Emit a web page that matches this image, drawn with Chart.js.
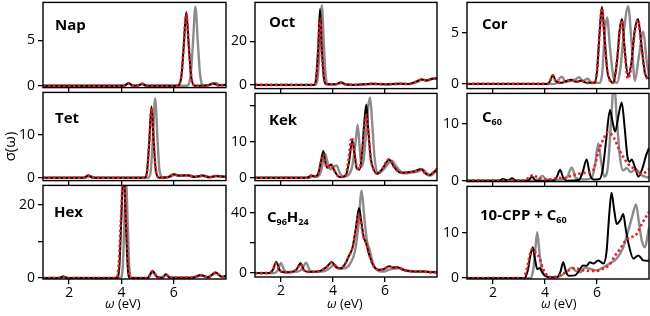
<!DOCTYPE html>
<html><head><meta charset="utf-8">
<script src="https://cdn.jsdelivr.net/npm/chart.js@4.4.1/dist/chart.umd.min.js"></script>
<style>
html,body{margin:0;padding:0;background:#fff;}
#wrap{position:relative;width:650px;height:316px;overflow:hidden;font-family:'Open Sans',sans-serif;}
canvas{position:absolute;}
.lbl{position:absolute;white-space:nowrap;color:#000;line-height:1;}
.lbl sub{font-size:0.6em;vertical-align:-0.3em;line-height:1;}
</style></head><body><div id="wrap"></div>
<script>
// ---------- data ----------
const xTicks = [2, 4, 6];

const napBlack = [[1,0],[4.1,0],[4.27,0.3],[4.45,0],[4.65,0.05],[4.8,0.2],[4.95,0],[6.15,0],[6.3,1.2],[6.38,4.2],[6.48,8.1],[6.58,4.2],[6.66,1.2],[6.8,0],[7.3,0.05],[7.5,0.25],[7.7,0.05],[8,0.1]];
const napGray  = [[1,0],[4.1,0],[4.27,0.25],[4.45,0],[4.65,0.05],[4.8,0.25],[4.95,0],[6.5,0],[6.65,1.2],[6.73,4.4],[6.83,8.7],[6.93,4.4],[7.01,1.2],[7.15,0],[7.4,0.1],[7.6,0.3],[7.8,0.05],[8,0.1]];
const napRed   = [[1,0],[4.1,0],[4.27,0.3],[4.45,0],[4.65,0.05],[4.8,0.2],[4.95,0],[6.15,0],[6.3,1.3],[6.38,4.3],[6.48,7.9],[6.58,4.3],[6.66,1.3],[6.8,0],[7.3,0.05],[7.5,0.25],[7.7,0.05],[8,0.1]];

const tetBlack = [[1,0],[2.55,0],[2.73,0.5],[2.9,0],[4.88,0],[4.98,1.5],[5.06,8],[5.15,16.7],[5.24,8],[5.32,1.5],[5.45,0],[5.8,0.2],[6.0,0.8],[6.2,0.5],[6.5,0.6],[6.8,0.2],[7.1,0.5],[7.35,0.1],[7.6,0.4],[8,0.2]];
const tetGray  = [[1,0],[2.6,0],[2.8,0.4],[3.0,0],[5.02,0],[5.12,1.5],[5.2,9],[5.29,18.6],[5.38,9],[5.46,1.5],[5.6,0],[5.85,0.2],[6.05,0.7],[6.25,0.4],[6.55,0.6],[6.85,0.2],[7.15,0.5],[7.4,0.1],[7.65,0.4],[8,0.2]];
const tetRed   = [[1,0],[2.55,0],[2.73,0.5],[2.9,0],[4.88,0],[4.98,1.5],[5.06,7.8],[5.15,16.2],[5.24,7.8],[5.32,1.5],[5.45,0],[5.8,0.2],[6.0,0.8],[6.2,0.5],[6.5,0.6],[6.8,0.2],[7.1,0.5],[7.35,0.1],[7.6,0.4],[8,0.2]];

const hexBlack = [[1,0],[1.6,0],[1.77,0.4],[1.95,0],[3.82,0],[3.92,3],[3.99,15],[4.08,30],[4.17,15],[4.24,3],[4.33,0],[5.0,0],[5.19,1.9],[5.38,0.2],[5.55,0.1],[5.7,1.0],[5.85,0.1],[6.7,0.1],[7.04,0.8],[7.3,0.2],[7.6,1.5],[7.85,0.3],[8,0.6]];
const hexGray  = [[1,0],[1.6,0],[1.77,0.3],[1.95,0],[3.96,0],[4.05,3],[4.11,15],[4.17,28],[4.24,15],[4.3,3],[4.39,0],[5.0,0],[5.2,1.6],[5.4,0.2],[5.55,0.1],[5.72,0.9],[5.87,0.1],[6.7,0.1],[7.06,0.7],[7.3,0.2],[7.62,1.3],[7.85,0.3],[8,0.5]];
const hexRed   = [[1,0],[1.6,0],[1.77,0.4],[1.95,0],[3.8,0],[3.9,4],[3.98,16],[4.08,29],[4.18,16],[4.26,4],[4.36,0],[5.0,0],[5.19,1.9],[5.38,0.2],[5.55,0.1],[5.7,1.0],[5.85,0.1],[6.7,0.1],[7.04,0.8],[7.3,0.2],[7.6,1.5],[7.85,0.3],[8,0.6]];

const octBlack = [[1,0],[3.26,0],[3.35,3],[3.43,17],[3.5,34.8],[3.57,17],[3.65,3],[3.74,0.3],[4.1,0.3],[4.3,1.2],[4.45,0.3],[4.8,0],[5.5,0.5],[6.0,0.3],[6.6,0.5],[6.9,0.4],[7.2,1.5],[7.4,2.5],[7.6,2.0],[7.8,2.8],[8,3]];
const octGray  = [[1,0],[3.32,0],[3.41,3],[3.49,18],[3.57,36.5],[3.65,18],[3.73,3],[3.82,0.3],[4.15,0.3],[4.35,1.0],[4.5,0.3],[4.85,0],[5.55,0.4],[6.05,0.3],[6.65,0.5],[6.95,0.4],[7.25,1.4],[7.45,2.4],[7.65,2.1],[7.85,2.9],[8,3.1]];
const octRed   = [[1,0],[3.26,0],[3.35,3],[3.43,15],[3.5,30],[3.57,15],[3.65,3],[3.74,0.3],[4.1,0.3],[4.3,1.2],[4.45,0.3],[4.8,0],[5.5,0.5],[6.0,0.3],[6.6,0.5],[6.9,0.4],[7.2,1.5],[7.4,2.5],[7.6,2.0],[7.8,2.8],[8,3]];

const kekBlack = [[1,0],[3.0,0],[3.17,0.6],[3.3,0.3],[3.45,1.5],[3.55,5],[3.63,7.4],[3.7,4.5],[3.77,2.8],[3.85,3.2],[3.93,3.7],[4.05,2.0],[4.2,0.4],[4.35,0.2],[4.5,0.8],[4.62,4.5],[4.74,10.3],[4.83,6.5],[4.92,2.5],[5.02,2.2],[5.12,7],[5.2,15],[5.28,20.3],[5.36,13],[5.45,5.5],[5.55,2.5],[5.7,1.1],[5.9,2.5],[6.16,5.0],[6.35,3],[6.6,1.4],[6.9,1.5],[7.15,1.8],[7.39,2.4],[7.55,1.2],[7.7,0.7],[7.85,1.4],[8,2.4]];
const kekGray  = [[1,0],[3.1,0],[3.25,0.5],[3.4,0.3],[3.55,2],[3.63,5],[3.7,6.6],[3.78,4.5],[3.9,2.3],[4.02,3],[4.14,3.4],[4.25,1.5],[4.4,0.3],[4.6,0.8],[4.75,3.5],[4.87,10],[4.95,14.7],[5.03,8],[5.1,3],[5.18,5],[5.28,13],[5.36,20],[5.43,22.2],[5.5,16],[5.6,5.5],[5.75,1.2],[5.95,2.3],[6.26,4.7],[6.45,3],[6.7,1.2],[7.0,1.4],[7.25,1.7],[7.45,2.3],[7.6,1.3],[7.75,0.6],[7.9,1.4],[8,2]];
const kekRed   = [[1,0],[3.0,0],[3.17,0.6],[3.3,0.3],[3.45,1.5],[3.55,4.8],[3.62,6.5],[3.7,4.3],[3.77,2.8],[3.85,3.1],[3.92,3.5],[4.05,2.0],[4.2,0.4],[4.35,0.2],[4.5,0.9],[4.6,5],[4.72,11.2],[4.82,7],[4.92,2.8],[5.02,2.5],[5.12,7],[5.2,13.5],[5.28,17.4],[5.36,12.5],[5.45,5.5],[5.55,2.5],[5.7,1.1],[5.9,2.5],[6.16,5.2],[6.35,3],[6.6,1.4],[6.9,1.5],[7.15,1.8],[7.39,2.4],[7.55,1.2],[7.7,0.7],[7.85,1.4],[8,2.4]];

const c96Black = [[1,0],[1.55,0],[1.68,2],[1.82,7.4],[1.95,2],[2.1,0.5],[2.4,0.8],[2.6,2.5],[2.75,6.5],[2.88,2],[3.05,0.8],[3.5,1.5],[3.75,4],[3.95,7.4],[4.15,3.5],[4.3,3.2],[4.48,6.5],[4.6,11],[4.75,17],[4.88,30],[5.0,43.5],[5.1,33],[5.18,24],[5.26,20.5],[5.4,12],[5.55,5],[5.77,2.2],[5.95,2.6],[6.16,4.6],[6.32,3.8],[6.47,3.9],[6.7,2.2],[7.0,1.3],[7.5,1],[7.8,0.5],[8,0.5]];
const c96Gray  = [[1,0],[1.75,0],[1.88,2],[2.0,6.8],[2.12,2],[2.3,0.5],[2.6,0.8],[2.8,2.5],[2.97,7.0],[3.1,2],[3.3,0.8],[3.7,1.5],[3.9,3.5],[4.05,5.8],[4.25,3],[4.45,3.2],[4.68,7],[4.85,15],[4.98,32],[5.1,55],[5.2,38],[5.3,22],[5.4,16],[5.55,6],[5.75,1.5],[5.95,1],[6.2,2.5],[6.4,3],[6.6,3.5],[6.8,1.5],[7.2,1],[7.6,1],[8,0.7]];
const c96Red   = [[1,0],[1.55,0],[1.68,2],[1.82,6.5],[1.95,2],[2.1,0.5],[2.4,0.8],[2.6,2.5],[2.75,6],[2.88,2],[3.05,0.8],[3.5,1.5],[3.75,4],[3.95,6.8],[4.15,3.5],[4.3,3.2],[4.48,6.5],[4.6,11],[4.75,17],[4.88,28],[5.0,39.5],[5.1,31],[5.18,24],[5.26,21],[5.4,12],[5.55,5],[5.77,2.2],[5.95,2.6],[6.16,4.4],[6.32,3.8],[6.47,3.9],[6.7,2.2],[7.0,1.3],[7.5,1],[7.8,0.5],[8,0.5]];

const corBlack = [[1,0],[4.1,0],[4.2,0.3],[4.3,0.85],[4.42,0.25],[4.6,0.1],[4.8,0.25],[5.0,0.4],[5.2,0.2],[5.4,0.3],[5.6,0.1],[5.9,0.1],[6.0,1.2],[6.1,5],[6.19,7.5],[6.29,4.5],[6.4,1.2],[6.5,0.4],[6.62,0.1],[6.78,2.5],[6.87,5.2],[6.96,6.35],[7.06,3.5],[7.19,0.8],[7.32,2],[7.45,5.2],[7.58,6.35],[7.7,4],[7.85,1],[8,0.5]];
const corGray  = [[1,0],[4.4,0],[4.55,0.5],[4.65,0.7],[4.8,0.2],[5.0,0.3],[5.15,0.4],[5.3,0.65],[5.45,0.3],[5.65,0.5],[5.8,0.1],[6.1,0.1],[6.2,1],[6.3,5],[6.39,6.5],[6.5,3.5],[6.62,0.8],[6.77,0.1],[6.9,1.5],[7.05,5.5],[7.2,7.6],[7.33,4],[7.46,0.3],[7.6,2.5],[7.78,5.1],[7.9,2.5],[8,0.8]];
const corRed   = [[1,0],[4.1,0],[4.2,0.3],[4.3,0.85],[4.42,0.25],[4.6,0.1],[4.8,0.25],[5.0,0.4],[5.2,0.2],[5.4,0.3],[5.6,0.1],[5.9,0.1],[6.0,1.2],[6.1,5],[6.19,7.4],[6.29,4.5],[6.4,1.2],[6.5,0.3],[6.62,0.1],[6.78,2.5],[6.87,5],[6.96,6.2],[7.06,3.3],[7.19,0.5],[7.32,1.8],[7.45,5],[7.58,6.2],[7.7,4],[7.85,1],[8,0.4]];

const c60Black = [[1,0],[2.25,0],[2.38,0.3],[2.5,0.1],[2.6,0.1],[2.73,0.4],[2.9,0],[3.35,0],[3.5,0.7],[3.65,0],[4.3,0],[4.45,0.6],[4.58,1.9],[4.7,0.5],[4.85,0],[5.3,0.1],[5.45,1.5],[5.6,3.7],[5.72,1.2],[5.85,0.2],[6.1,0.3],[6.22,2],[6.35,7],[6.5,12.4],[6.6,10.3],[6.7,8.6],[6.83,11.5],[6.95,13.7],[7.07,9],[7.17,4.2],[7.25,3.3],[7.33,3.7],[7.45,2.5],[7.59,0.7],[7.75,2.2],[7.9,4.6],[8,5.7]];
const c60Gray  = [[1,0],[3.6,0],[3.75,0.3],[3.9,0.8],[4.05,0.2],[4.5,0.1],[4.85,0.6],[5.03,2.3],[5.18,0.5],[5.5,0.2],[5.8,0.5],[5.93,3],[6.05,6.5],[6.17,3],[6.28,0.7],[6.42,2.5],[6.55,11],[6.65,17.5],[6.76,11],[6.88,4.2],[7.0,1.8],[7.15,2.2],[7.3,1.5],[7.5,2],[7.7,1],[8,0.5]];
const c60Red   = [[1,0],[3.2,0],[3.4,0.6],[3.55,1.0],[3.7,0.6],[3.9,0.2],[4.2,0.2],[4.5,0.5],[4.7,0.4],[5.0,0.8],[5.3,1.2],[5.6,1.4],[5.85,1.8],[6.05,5],[6.2,6.8],[6.43,8.5],[6.65,7.5],[6.88,5.2],[7.2,2.9],[7.45,2.0],[7.65,1.2],[7.8,1.3],[8,2.0]];

const cppBlack = [[1,0],[3.2,0],[3.33,1.5],[3.44,5],[3.53,6.8],[3.62,4],[3.7,2],[3.8,2.2],[3.9,1.2],[4.0,0.6],[4.15,0.2],[4.45,0.2],[4.6,1.5],[4.7,3.5],[4.8,1.5],[4.92,0.5],[5.15,0.6],[5.35,2.0],[5.46,2.8],[5.6,2.7],[5.73,3.5],[5.86,3.2],[6.05,3.9],[6.25,3.2],[6.37,6],[6.47,14],[6.56,18.8],[6.66,15],[6.76,11.9],[6.9,12.8],[7.01,14.1],[7.1,11],[7.2,7.9],[7.4,4.3],[7.59,5.0],[7.78,3.9],[8,3.8]];
const cppGray  = [[1,0],[3.45,0],[3.55,2],[3.63,6.5],[3.7,10.1],[3.78,6],[3.87,2],[4.0,0.5],[4.3,0.1],[4.6,0.5],[4.85,1.5],[5.03,2.3],[5.2,1.5],[5.35,1.3],[5.54,2.3],[5.75,2.0],[5.99,1.7],[6.2,2.2],[6.37,2.8],[6.55,3.4],[6.76,4.3],[7.01,6.8],[7.2,10.4],[7.35,13.5],[7.5,16.2],[7.62,12],[7.72,8.3],[7.85,6.8],[7.95,9.5],[8,11.2]];
const cppRed   = [[1,0],[3.15,0],[3.3,2],[3.42,5.2],[3.52,6.4],[3.65,5.5],[3.8,4.3],[3.92,2.1],[4.1,0.5],[4.3,0.2],[4.5,0.5],[4.7,1.0],[4.95,1.8],[5.15,2.2],[5.4,1.8],[5.7,1.6],[5.99,1.6],[6.2,2.0],[6.45,2.8],[6.7,5],[6.9,6.5],[7.1,8.3],[7.3,9],[7.5,9.5],[7.72,11.9],[8,14.6]];

// y tick values / which ones carry labels
const napYTicks = [0,5],      napYLabels = [0,5];
const tetYTicks = [0,10],     tetYLabels = [0,10];
const hexYTicks = [0,10,20],  hexYLabels = [0,20];
const octYTicks = [0,20],     octYLabels = [0,20];
const kekYTicks = [0,10,20],  kekYLabels = [0,10];
const c96YTicks = [0,20,40],  c96YLabels = [0,40];
const corYTicks = [0,5],      corYLabels = [0,5];
const c60YTicks = [0,10],     c60YLabels = [0,10];
const cppYTicks = [0,10],     cppYLabels = [0,10];

// ---------- layout ----------
const FONT = "'Open Sans', sans-serif";
const panels = [
  {L:43,  T:1,   R:226, B:91,  ymin:-0.2,  ymax:9.17, yt:napYTicks, yl:napYLabels, black:napBlack, gray:napGray, red:napRed, bottom:false},
  {L:43,  T:91,  R:226, B:184, ymin:-0.67, ymax:20,   yt:tetYTicks, yl:tetYLabels, black:tetBlack, gray:tetGray, red:tetRed, bottom:false},
  {L:43,  T:184, R:226, B:279, ymin:-0.27, ymax:25.4, yt:hexYTicks, yl:hexYLabels, black:hexBlack, gray:hexGray, red:hexRed, bottom:true},
  {L:255, T:1,   R:437, B:92,  ymin:-1.7,  ymax:37.8, yt:octYTicks, yl:octYLabels, black:octBlack, gray:octGray, red:octRed, bottom:false},
  {L:255, T:92,  R:437, B:184, ymin:-0.8,  ymax:23.4, yt:kekYTicks, yl:kekYLabels, black:kekBlack, gray:kekGray, red:kekRed, bottom:false},
  {L:255, T:184, R:437, B:277, ymin:-2.6,  ymax:58.5, yt:c96YTicks, yl:c96YLabels, black:c96Black, gray:c96Gray, red:c96Red, bottom:true},
  {L:467, T:1,   R:649, B:92,  ymin:-0.46, ymax:7.96, yt:corYTicks, yl:corYLabels, black:corBlack, gray:corGray, red:corRed, bottom:false},
  {L:467, T:92,  R:649, B:185, ymin:-0.17, ymax:15.3, yt:c60YTicks, yl:c60YLabels, black:c60Black, gray:c60Gray, red:c60Red, bottom:false},
  {L:467, T:185, R:649, B:279, ymin:-0.2,  ymax:20.2, yt:cppYTicks, yl:cppYLabels, black:cppBlack, gray:cppGray, red:cppRed, bottom:true}
];

const wrap = document.getElementById('wrap');
const frame = {id:'frame', afterDraw(chart){
  const a = chart.chartArea, ctx = chart.ctx;
  ctx.save(); ctx.strokeStyle = '#000'; ctx.lineWidth = 1.4;
  ctx.strokeRect(a.left, a.top, a.right - a.left, a.bottom - a.top);
  ctx.restore();
}};

const PADL = 42, PADT = 10, PADR = 6;
panels.forEach(p => {
  const xh = p.bottom ? 30 : 8;
  const w = (p.R - p.L) + PADL + PADR, h = (p.B - p.T) + PADT + xh;
  const c = document.createElement('canvas');
  c.width = w; c.height = h;
  c.style.left = (p.L - PADL) + 'px'; c.style.top = (p.T - PADT) + 'px';
  c.style.width = w + 'px'; c.style.height = h + 'px';
  wrap.appendChild(c);
  const tickGrid = {drawOnChartArea:false, drawTicks:true, tickLength:5, color:'#000', lineWidth:1.3};
  new Chart(c, {
    type:'line',
    data:{datasets:[
      {data:p.red,   borderColor:'#ec1c24', borderWidth:2.6, borderDash:[2.4,2.6]},
      {data:p.black, borderColor:'#000000', borderWidth:2},
      {data:p.gray,  borderColor:'#8c8c8c', borderWidth:2.4}
    ]},
    options:{
      responsive:false, animation:false, devicePixelRatio:1,
      layout:{padding:{left:0, top:PADT, right:PADR, bottom:0}},
      elements:{point:{radius:0}, line:{cubicInterpolationMode:'monotone', fill:false}},
      plugins:{legend:{display:false}, tooltip:{enabled:false}},
      scales:{
        x:{type:'linear', min:1, max:8,
           afterBuildTicks:s => { s.ticks = xTicks.map(v => ({value:v})); },
           afterFit:s => { s.height = xh; },
           grid:tickGrid, border:{display:false},
           ticks:{display:p.bottom, font:{family:FONT, size:14}, color:'#000', padding:1, maxRotation:0}},
        y:{type:'linear', min:p.ymin, max:p.ymax,
           afterBuildTicks:s => { s.ticks = p.yt.map(v => ({value:v})); },
           afterFit:s => { s.width = PADL; },
           grid:tickGrid, border:{display:false},
           ticks:{font:{family:FONT, size:14}, color:'#000', padding:3,
                  callback:v => p.yl.includes(v) ? String(v) : ''}}
      }
    },
    plugins:[frame]
  });
});

// ---------- text ----------
function addText(html, left, baseline, size, opts){
  const d = document.createElement('div');
  d.className = 'lbl';
  d.innerHTML = html;
  d.style.fontSize = size + 'px';
  d.style.fontWeight = (opts && opts.bold) ? '700' : '400';
  d.style.left = left + 'px';
  d.style.top = (baseline - 0.888 * size) + 'px';
  wrap.appendChild(d);
  return d;
}
const panelNames = [
  ['Nap', 55, 30.7], ['Tet', 55, 123.7], ['Hex', 54, 217.7],
  ['Oct', 269, 27.7], ['Kek', 269, 125.7], ['C<sub>96</sub>H<sub>24</sub>', 267, 222.7],
  ['Cor', 482, 29.5], ['C<sub>60</sub>', 482, 122.7], ['10-CPP + C<sub>60</sub>', 480, 220.7]
];
panelNames.forEach(n => addText(n[0], n[1], n[2], 15, {bold:true}));

const xTitles = [[123, 309], [345, 309], [559, 309]];
xTitles.forEach(t => {
  const d = addText('<i>ω</i> (eV)', 0, t[1], 13);
  d.style.left = (t[0] - d.offsetWidth / 2) + 'px';
});
const yt = addText('σ(ω)', 0, 0, 15);
yt.style.transformOrigin = 'center center';
yt.style.left = (10 - yt.offsetWidth / 2) + 'px';
yt.style.top = (146 - yt.offsetHeight / 2) + 'px';
yt.style.transform = 'rotate(-90deg)';
</script>
</body></html>
